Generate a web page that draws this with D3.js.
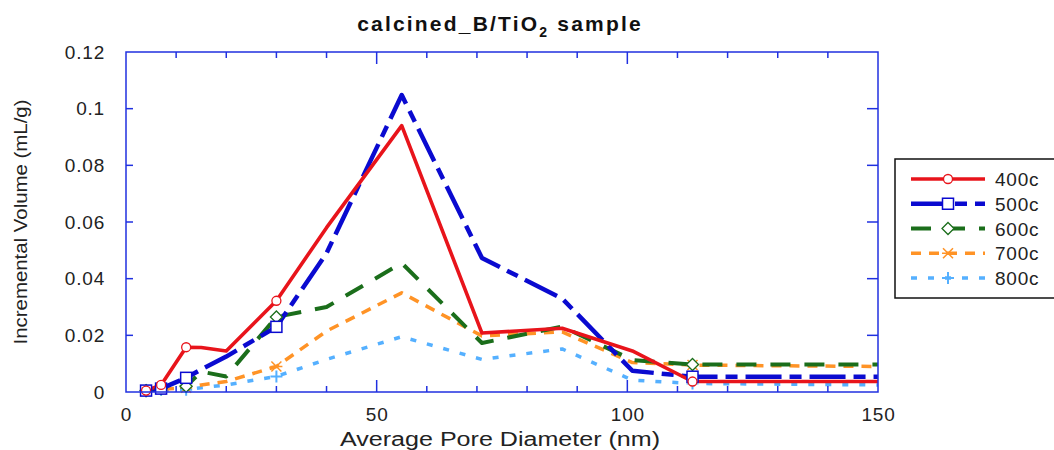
<!DOCTYPE html>
<html><head><meta charset="utf-8">
<script src="https://cdn.jsdelivr.net/npm/d3@7"></script>
<style>body{margin:0;background:#fff}svg{display:block}text{font-family:"Liberation Sans",Arial,sans-serif}</style>
</head><body>
<svg id="c" width="1054" height="450"></svg>
<script>
const xs = [4, 7, 12, 15, 20, 30, 40, 55, 71, 87, 101, 113, 150];
const s400 = [0.0005, 0.0025, 0.0158, 0.0157, 0.0145, 0.0322, 0.058, 0.094, 0.0208, 0.0225, 0.0145, 0.0037, 0.0037];
const s500 = [0.0005, 0.0012, 0.005, 0.008, 0.0125, 0.023, 0.049, 0.1048, 0.0473, 0.033, 0.0075, 0.0054, 0.0054];
const s600 = [0.0005, 0.0012, 0.002, 0.0072, 0.0055, 0.0265, 0.030, 0.0455, 0.0173, 0.0231, 0.0113, 0.0097, 0.0097];
const s700 = [0.0005, 0.001, 0.0015, 0.0025, 0.0037, 0.009, 0.0215, 0.035, 0.0198, 0.0212, 0.0104, 0.0095, 0.009];
const s800 = [0.0003, 0.0008, 0.0008, 0.0015, 0.0025, 0.0055, 0.0115, 0.0195, 0.0115, 0.0152, 0.0042, 0.003, 0.0025];
const markerX = [4, 7, 12, 30, 113];
const seriesNames = ["400c", "500c", "600c", "700c", "800c"];
const xTicks = [0, 50, 100, 150];
const yTicks = [0, 0.02, 0.04, 0.06, 0.08, 0.1, 0.12];
const yTickLabels = ["0", "0.02", "0.04", "0.06", "0.08", "0.1", "0.12"];

const styles = {
  "400c": {color: "#e8141b", width: 3.6, dash: null, marker: "circle"},
  "500c": {color: "#0a0ad0", width: 4.5, dash: "36,8,12,8", marker: "square"},
  "600c": {color: "#1b6e1b", width: 4, dash: "20,14", marker: "diamond"},
  "700c": {color: "#ff9326", width: 3.5, dash: "10,8", marker: "x"},
  "800c": {color: "#55b0ff", width: 3.5, dash: "6,11", marker: "plus"}
};
const values = {"400c": s400, "500c": s500, "600c": s600, "700c": s700, "800c": s800};

const svg = d3.select("#c");
const x = d3.scaleLinear().domain([0, 150]).range([126, 878]);
const y = d3.scaleLinear().domain([0, 0.12]).range([392, 52]);
const axisColor = "#2030e0";

// title
const t = svg.append("text").attr("x", 500).attr("y", 31).attr("text-anchor", "middle")
  .attr("font-size", 21).attr("font-weight", "bold").attr("fill", "#111").attr("letter-spacing", 2.2);
t.append("tspan").text("calcined_B/TiO");
t.append("tspan").attr("dy", 6).attr("font-size", 14).text("2");
t.append("tspan").attr("dy", -6).text(" sample");

// lines
const line = d3.line().x((d, i) => x(xs[i])).y(d => y(d));
const order = ["800c", "700c", "600c", "500c", "400c"];
const plot = svg.append("g");
order.forEach(name => {
  const st = styles[name];
  plot.append("path").datum(values[name]).attr("d", line)
    .attr("fill", "none").attr("stroke", st.color).attr("stroke-width", st.width)
    .attr("stroke-dasharray", st.dash).attr("stroke-linejoin", "round");
});

function drawMarker(g, type, cx, cy, color) {
  if (type === "circle") g.append("circle").attr("cx", cx).attr("cy", cy).attr("r", 4.5).attr("fill", "#fff").attr("stroke", color).attr("stroke-width", 1.3);
  else if (type === "square") g.append("rect").attr("x", cx - 5.5).attr("y", cy - 5.5).attr("width", 11).attr("height", 11).attr("fill", "#fff").attr("stroke", color).attr("stroke-width", 1.5);
  else if (type === "diamond") g.append("path").attr("d", `M${cx},${cy-6}L${cx+6},${cy}L${cx},${cy+6}L${cx-6},${cy}Z`).attr("fill", "#fff").attr("stroke", color).attr("stroke-width", 1.3);
  else if (type === "x") g.append("path").attr("d", `M${cx-5},${cy-5}L${cx+5},${cy+5}M${cx-5},${cy+5}L${cx+5},${cy-5}M${cx-6},${cy}L${cx+6},${cy}`).attr("stroke", color).attr("stroke-width", 1.5);
  else if (type === "plus") g.append("path").attr("d", `M${cx-6},${cy}L${cx+6},${cy}M${cx},${cy-6}L${cx},${cy+6}`).attr("stroke", color).attr("stroke-width", 2);
}
order.forEach(name => {
  const st = styles[name];
  values[name].forEach((v, i) => {
    if (markerX.includes(xs[i])) drawMarker(plot, st.marker, x(xs[i]), y(v), st.color);
  });
});

// axes frame and ticks
const ax = svg.append("g");
ax.append("rect").attr("x", 126).attr("y", 52).attr("width", 752).attr("height", 340)
  .attr("fill", "none").attr("stroke", axisColor).attr("stroke-width", 1.5);
const xMinor = d3.range(10, 150, 10);
xMinor.forEach(v => {
  const len = v % 50 === 0 ? 12 : 6;
  ax.append("line").attr("x1", x(v)).attr("x2", x(v)).attr("y1", 392).attr("y2", 392 - len).attr("stroke", axisColor).attr("stroke-width", 1.5);
  ax.append("line").attr("x1", x(v)).attr("x2", x(v)).attr("y1", 52).attr("y2", 52 + len).attr("stroke", axisColor).attr("stroke-width", 1.5);
});
yTicks.slice(1, -1).forEach(v => {
  ax.append("line").attr("x1", 126).attr("x2", 133).attr("y1", y(v)).attr("y2", y(v)).attr("stroke", axisColor).attr("stroke-width", 1.5);
  ax.append("line").attr("x1", 878).attr("x2", 867).attr("y1", y(v)).attr("y2", y(v)).attr("stroke", axisColor).attr("stroke-width", 1.5);
});

// tick labels via d3 axes (lines hidden)
const xAxis = svg.append("g").attr("transform", "translate(0,392)")
  .call(d3.axisBottom(x).tickValues(xTicks).tickSize(0).tickPadding(16).tickFormat(d3.format("d")));
const yAxis = svg.append("g").attr("transform", "translate(126,0)")
  .call(d3.axisLeft(y).tickValues(yTicks).tickSize(0).tickPadding(21).tickFormat((d, i) => yTickLabels[i]));
[xAxis, yAxis].forEach(g => {
  g.select(".domain").remove();
  g.selectAll("text").attr("font-size", 19).attr("fill", "#222").attr("letter-spacing", 0.8)
    .style("font-family", '"Liberation Sans",Arial,sans-serif');
});

// axis titles
svg.append("text").attr("x", 500).attr("y", 446).attr("text-anchor", "middle")
  .attr("font-size", 20).attr("fill", "#222").attr("textLength", 320).attr("lengthAdjust", "spacingAndGlyphs")
  .text("Average Pore Diameter (nm)");
svg.append("text").attr("transform", "translate(27,222) rotate(-90)").attr("text-anchor", "middle")
  .attr("font-size", 18).attr("fill", "#222").attr("textLength", 245).attr("lengthAdjust", "spacingAndGlyphs")
  .text("Incremental Volume (mL/g)");

// legend
const lg = svg.append("g");
lg.append("rect").attr("x", 895).attr("y", 159).attr("width", 170).attr("height", 139)
  .attr("fill", "#fff").attr("stroke", "#111").attr("stroke-width", 1.5);
const ly = d3.scalePoint().domain(seriesNames).range([179, 278]);
seriesNames.forEach(name => {
  const st = styles[name];
  lg.append("line").attr("x1", 911).attr("x2", 985).attr("y1", ly(name)).attr("y2", ly(name))
    .attr("stroke", st.color).attr("stroke-width", st.width).attr("stroke-dasharray", st.dash);
  drawMarker(lg, st.marker, 948, ly(name), st.color);
  lg.append("text").attr("x", 995).attr("y", ly(name) + 7).attr("font-size", 19).attr("fill", "#222")
    .attr("letter-spacing", 0.8).text(name);
});
</script>
</body></html>
